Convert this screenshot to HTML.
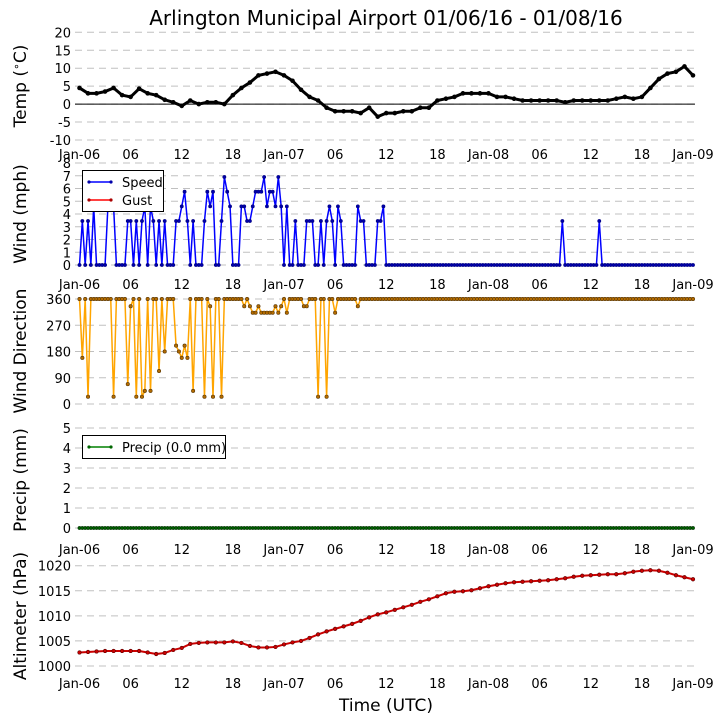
<!DOCTYPE html>
<html><head><meta charset="utf-8"><style>
body{margin:0;background:#fff}
svg{display:block;font-family:"DejaVu Sans","Liberation Sans",sans-serif}
</style></head><body>
<svg id="c" width="723" height="725"></svg>
<script>
const tempHourly=[4.5,3,3,3.5,4.5,2.5,2,4.3,3,2.5,1.2,0.5,-0.5,1,0,0.5,0.5,0,2.5,4.5,6,8,8.5,9,8,6.5,4,2,1,-1,-2,-2,-2,-2.5,-1,-3.5,-2.5,-2.5,-2,-2,-1,-1,1,1.5,2,3,3,3,3,2,2,1.5,1,1,1,1,1,0.5,1,1,1,1,1,1.5,2,1.5,2,4.5,7,8.5,9,10.5,8];
const windSpeed=[0,3.45,0,3.45,0,4.6,0,0,0,0,4.6,4.6,4.6,0,0,0,0,3.45,3.45,0,3.45,0,3.45,4.6,0,4.6,3.45,0,3.45,0,3.45,0,0,0,3.45,3.45,4.6,5.75,3.45,0,3.45,0,0,0,3.45,5.75,4.6,5.75,0,0,3.45,6.9,5.75,4.6,0,0,0,4.6,4.6,3.45,3.45,4.6,5.75,5.75,5.75,6.9,4.6,5.75,5.75,4.6,6.9,4.6,0,4.6,0,0,3.45,0,0,0,3.45,3.45,3.45,0,0,3.45,0,3.45,4.6,3.45,0,4.6,3.45,0,0,0,0,0,4.6,3.45,3.45,0,0,0,0,3.45,3.45,4.6];
const windSpikes=[[170,3.45],[183,3.45]];
const dirDips=[[1,158],[3,25],[12,25],[17,68],[18,335],[20,25],[22,25],[23,45],[25,45],[28,113],[30,180],[34,200],[35,180],[36,158],[37,200],[38,158],[40,45],[44,25],[46,335],[47,25],[50,25],[58,335],[60,335],[61,313],[62,313],[63,335],[64,313],[65,313],[66,313],[67,313],[68,313],[69,335],[70,313],[71,335],[73,313],[79,335],[80,335],[84,25],[87,25],[90,313],[98,335]];
const altHourly=[1002.7,1002.8,1002.9,1003,1003,1003,1003,1003,1002.7,1002.4,1002.6,1003.2,1003.6,1004.4,1004.6,1004.7,1004.7,1004.7,1004.9,1004.6,1004,1003.7,1003.7,1003.8,1004.3,1004.7,1005,1005.6,1006.3,1006.9,1007.4,1007.9,1008.4,1009,1009.7,1010.3,1010.7,1011.2,1011.7,1012.2,1012.8,1013.3,1013.9,1014.5,1014.8,1014.9,1015.1,1015.5,1015.9,1016.2,1016.5,1016.7,1016.8,1016.9,1017,1017.1,1017.3,1017.5,1017.8,1018,1018.1,1018.2,1018.3,1018.3,1018.5,1018.8,1019,1019.1,1019,1018.6,1018.1,1017.7,1017.3];
const xTickLabels=["Jan-06","06","12","18","Jan-07","06","12","18","Jan-08","06","12","18","Jan-09"];
const tempTicks=[20,15,10,5,0,-5,-10];
const windTicks=[0,1,2,3,4,5,6,7,8];
const dirTicks=[0,90,180,270,360];
const precipTicks=[0,1,2,3,4,5];
const altTicks=[1000,1005,1010,1015,1020];

const svg=document.getElementById('c');const NS='http://www.w3.org/2000/svg';
function el(t,a,p){const e=document.createElementNS(NS,t);for(const k in a)e.setAttribute(k,a[k]);(p||svg).appendChild(e);return e;}
const X0=79.5,X1=693;
const xh=h=>X0+(X1-X0)*h/72;
function yScale(v0,v1,p0,p1){return v=>p0+(v-v0)*(p1-p0)/(v1-v0);}
function grid(ticks,y,name){
  const g=el('g',{});
  ticks.forEach(t=>{const l=el('line',{x1:75,x2:695,y1:y(t),y2:y(t),stroke:'#c0c0c0','stroke-dasharray':'7,5'},g);
    
    const tx=el('text',{x:71,y:y(t)+5,'text-anchor':'end','font-size':13},g);tx.textContent=t;
    });
}
function xlabels(yy,name){
  const g=el('g',{});
  xTickLabels.forEach((s,i)=>{const t=el('text',{x:xh(i*6),y:yy,'text-anchor':'middle','font-size':13},g);t.textContent=s;
    });
}
function ytitle(s,cy,name){const t=el('text',{x:0,y:0,transform:`translate(26,${cy}) rotate(-90)`,'text-anchor':'middle','font-size':17});t.textContent=s;
  return t;}
function series(pts,stroke,fill,edge,r,name,sw){
  const g=el('g',{});
  el('polyline',{points:pts.map(p=>p.join(',')).join(' '),fill:'none',stroke:stroke,'stroke-width':sw||1.5},g);
  pts.forEach(p=>{const c=el('circle',{cx:p[0],cy:p[1],r:r,fill:fill,stroke:edge,'stroke-width':0.6},g);
    });
}
const ti=el('text',{x:386,y:25,'text-anchor':'middle','font-size':20});ti.textContent='Arlington Municipal Airport 01/06/16 - 01/08/16';


// Temp
const yT=yScale(20,-10,32.3,140);grid(tempTicks,yT,'temp');
el('line',{x1:75,x2:695,y1:yT(0),y2:yT(0),stroke:'#000','stroke-width':1});
const tt=ytitle('',86,'temp-axis-title');
tt.innerHTML='Temp (<tspan dy="-6" font-size="11">\u2218</tspan><tspan dy="6">C)</tspan>';
series(tempHourly.map((v,i)=>[xh(i),yT(v)]),'#000','#000','#000',2,'temp-series',3);
xlabels(159,'temp-x-axis');

// Wind
const yW=yScale(0,8,265,163);grid(windTicks,yW,'wind');ytitle('Wind (mph)',214,'wind-axis-title');
const ws=[];for(let i=0;i<=216;i++){ws.push(i<windSpeed.length?windSpeed[i]:0);}windSpikes.forEach(s=>ws[s[0]]=s[1]);
series(ws.map((v,i)=>[xh(i/3),yW(v)]),'#0000ff','#0000aa','#000080',1.6,'wind-speed-series',1.5);
xlabels(289,'wind-x-axis');
const lg=el('g',{});
el('rect',{x:82.5,y:170.5,width:81,height:41,fill:'#fff',stroke:'#000'},lg);
el('line',{x1:89,x2:111,y1:182,y2:182,stroke:'#0000ff','stroke-width':1.5},lg);el('circle',{cx:89,cy:182,r:1.6,fill:'#00a'},lg);el('circle',{cx:111,cy:182,r:1.6,fill:'#00a'},lg);
el('line',{x1:89,x2:111,y1:200,y2:200,stroke:'#ff0000','stroke-width':1.5},lg);el('circle',{cx:89,cy:200,r:1.6,fill:'#a00'},lg);el('circle',{cx:111,cy:200,r:1.6,fill:'#a00'},lg);
let t=el('text',{x:122,y:187,'font-size':13},lg);t.textContent='Speed';
t=el('text',{x:122,y:205,'font-size':13},lg);t.textContent='Gust';

// Direction
const yD=yScale(0,360,404,299);grid(dirTicks,yD,'direction');ytitle('Wind Direction',351,'direction-axis-title');
const wd=[];for(let i=0;i<=216;i++)wd.push(360);dirDips.forEach(d=>wd[d[0]]=d[1]);
series(wd.map((v,i)=>[xh(i/3),yD(v)]),'#ffa500','#b36b00','#553300',1.7,'wind-direction-series',1.5);

// Precip
const yP=yScale(0,5,528,428);grid(precipTicks,yP,'precip');ytitle('Precip (mm)',480,'precip-axis-title');
const pr=[];for(let i=0;i<=216;i++)pr.push(0);
series(pr.map((v,i)=>[xh(i/3),yP(v)]),'#008000','#006000','#003000',1.6,'precip-series',1.5);
xlabels(554,'precip-x-axis');
const pl=el('g',{});
el('rect',{x:82.5,y:435.5,width:143,height:23,fill:'#fff',stroke:'#000'},pl);
el('line',{x1:89,x2:111,y1:447,y2:447,stroke:'#008000','stroke-width':1.5},pl);el('circle',{cx:89,cy:447,r:1.6,fill:'#060'},pl);el('circle',{cx:111,cy:447,r:1.6,fill:'#060'},pl);
t=el('text',{x:122,y:452,'font-size':13},pl);t.textContent='Precip (0.0 mm)';

// Altimeter
const yA=yScale(1000,1020,666,565.7);grid(altTicks,yA,'altimeter');ytitle('Altimeter (hPa)',616,'altimeter-axis-title');
series(altHourly.map((v,i)=>[xh(i),yA(v)]),'#cc0000','#cc0000','#550000',1.8,'altimeter-series',2);
xlabels(688,'altimeter-x-axis');
t=el('text',{x:386,y:711,'text-anchor':'middle','font-size':17});t.textContent='Time (UTC)';
</script>
</body></html>
